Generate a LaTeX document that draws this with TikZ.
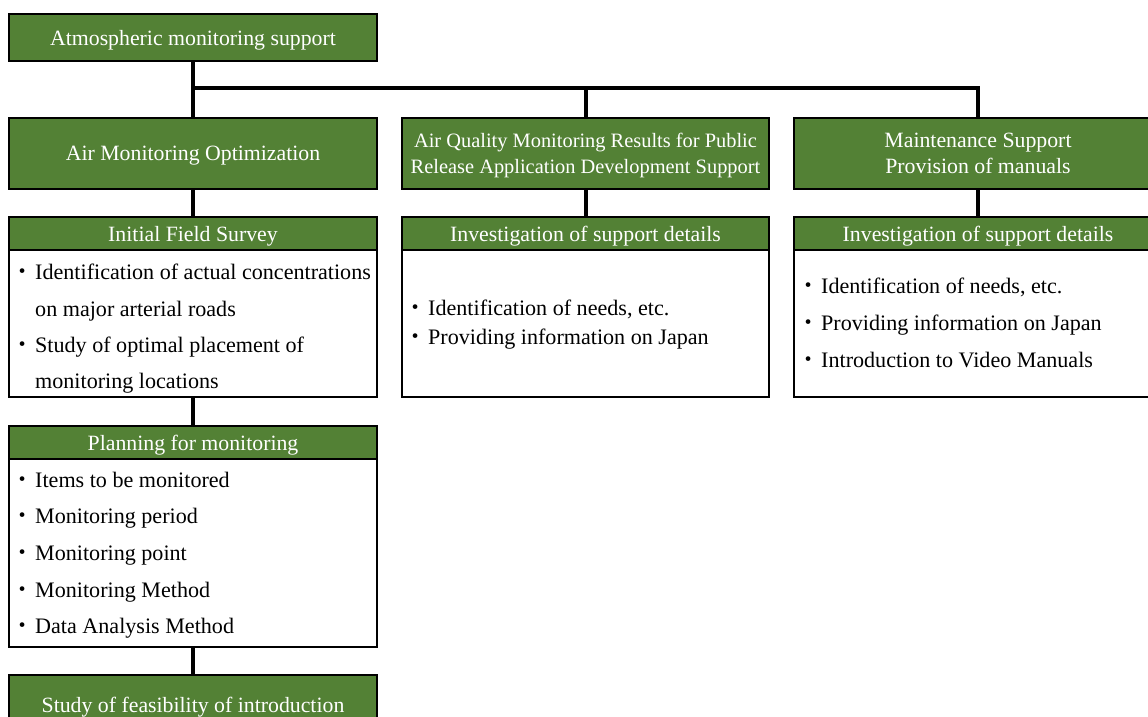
\documentclass[tikz,border=0pt]{standalone}
\usepackage{fontspec}
\setmainfont{Liberation Serif}
\newfontfamily\cjk{Noto Sans CJK JP}
\definecolor{boxgreen}{RGB}{83,129,53}
% bullet hanging to the left of the item text
\newcommand{\itembul}{\llap{\makebox[25pt][c]{\cjk ・}}}

\begin{document}
\begin{tikzpicture}[x=1pt,y=-1pt,
  greenbox/.style={draw=black, line width=1.2pt, fill=boxgreen, text=white,
    font=\fontsize{21.8}{26}\selectfont, align=center, inner sep=0pt,
    text depth=0pt, minimum width=368pt},
  bodybox/.style={draw=black, line width=1.2pt, fill=white, inner sep=0pt,
    minimum width=368pt},
  itemtext/.style={anchor=base west, inner sep=0pt, text=black,
    font=\fontsize{22.1}{26}\selectfont},
  link/.style={draw=black, line width=4pt, line join=miter}]

\path[use as bounding box] (0,0) rectangle (1148,717);
\clip (0,0) rectangle (1148,717);

% top level
\node[greenbox, minimum height=47pt] (top) at (193,37.5) {Atmospheric monitoring support};

% second level
\node[greenbox, minimum height=71pt] (amo) at (193,153.5) {Air Monitoring Optimization};
\node[greenbox, minimum height=71pt, minimum width=367pt,
  font=\fontsize{20.4}{26}\selectfont] (aqm) at (585.5,153.5)
  {Air Quality Monitoring Results for Public\\Release Application Development Support};
\node[greenbox, minimum height=71pt] (mnt) at (978,153.5)
  {Maintenance Support\\Provision of manuals};

% left column: initial field survey
\node[greenbox, minimum height=33pt] (ifsh) at (193,233.5) {Initial Field Survey};
\node[bodybox, minimum height=147pt] (ifsb) at (193,323.5) {};
\node[itemtext] (ifs1) at (35,279) {\itembul Identification of actual concentrations};
\node[itemtext] (ifs2) at (35,316) {on major arterial roads};
\node[itemtext] (ifs3) at (35,352) {\itembul Study of optimal placement of};
\node[itemtext] (ifs4) at (35,388) {monitoring locations};

% left column: planning
\node[greenbox, minimum height=33pt] (plh) at (193,442.5) {Planning for monitoring};
\node[bodybox, minimum height=188pt] (plb) at (193,553) {};
\node[itemtext] (pl1) at (35,487) {\itembul Items to be monitored};
\node[itemtext] (pl2) at (35,523) {\itembul Monitoring period};
\node[itemtext] (pl3) at (35,560) {\itembul Monitoring point};
\node[itemtext] (pl4) at (35,597) {\itembul Monitoring Method};
\node[itemtext] (pl5) at (35,633) {\itembul Data Analysis Method};

% left column: feasibility
\node[greenbox, minimum height=60pt] (feas) at (193,705) {Study of feasibility of introduction};

% middle column
\node[greenbox, minimum height=33pt, minimum width=367pt] (aqh) at (585.5,233.5) {Investigation of support details};
\node[bodybox, minimum height=147pt, minimum width=367pt] (aqb) at (585.5,323.5) {};
\node[itemtext] (aq1) at (428,315) {\itembul Identification of needs, etc.};
\node[itemtext] (aq2) at (428,344) {\itembul Providing information on Japan};

% right column
\node[greenbox, minimum height=33pt] (mnh) at (978,233.5) {Investigation of support details};
\node[bodybox, minimum height=147pt] (mnb) at (978,323.5) {};
\node[itemtext] (mn1) at (821,293) {\itembul Identification of needs, etc.};
\node[itemtext] (mn2) at (821,330) {\itembul Providing information on Japan};
\node[itemtext] (mn3) at (821,367) {\itembul Introduction to Video Manuals};

% connectors
\coordinate (hub) at (193,88);
\draw[link] (top.south) -- (amo.north);
\draw[link] (hub) -| (mnt.north);
\draw[link] (hub -| aqm.north) -- (aqm.north);
\draw[link] (amo.south) -- (ifsh.north);
\draw[link] (aqm.south) -- (aqh.north);
\draw[link] (mnt.south) -- (mnh.north);
\draw[link] (ifsb.south) -- (plh.north);
\draw[link] (plb.south) -- (feas.north);
\end{tikzpicture}
\end{document}
